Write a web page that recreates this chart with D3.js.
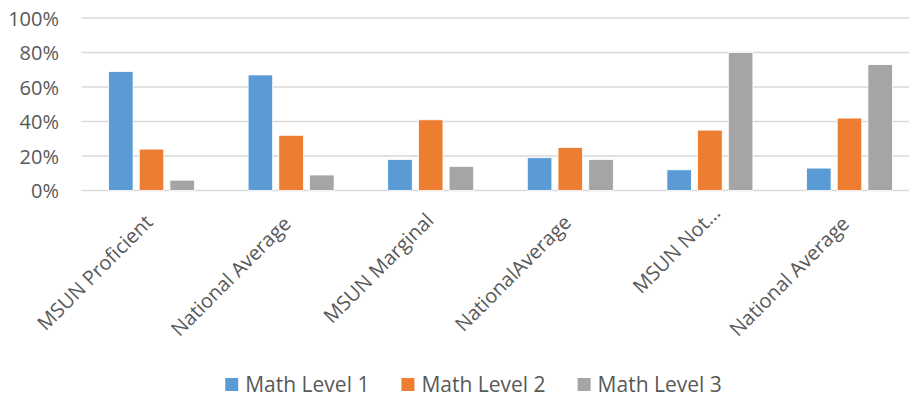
<!DOCTYPE html>
<html>
<head>
<meta charset="utf-8">
<script src="https://cdn.jsdelivr.net/npm/d3@7"></script>
<style>
  html, body { margin: 0; padding: 0; background: #fff; }
  svg { display: block; font-family: "Open Sans", "DejaVu Sans", sans-serif; }
</style>
</head>
<body>
<svg id="chart" width="909" height="401"></svg>
<script>
const categories = ["MSUN Proficient", "National Average", "MSUN Marginal", "NationalAverage", "MSUN Not…", "National Average"];
const seriesNames = ["Math Level 1", "Math Level 2", "Math Level 3"];
const level1 = [0.69, 0.67, 0.18, 0.19, 0.12, 0.13];
const level2 = [0.24, 0.32, 0.41, 0.25, 0.35, 0.42];
const level3 = [0.06, 0.09, 0.14, 0.18, 0.80, 0.73];
const yTicks = [0, 0.2, 0.4, 0.6, 0.8, 1.0];
const colors = ["#5B9BD5", "#ED7D31", "#A5A5A5"];

const seriesValues = [level1, level2, level3];
const svg = d3.select("#chart");
const textColor = "#595959";

const plotLeft = 81.7, plotRight = 919.3, plotTop = 18, plotBottom = 190.5;

const x0 = d3.scaleBand()
  .domain(d3.range(categories.length))
  .range([plotLeft, plotRight])
  .paddingInner(0.384)
  .paddingOuter(0.192);

const x1 = d3.scaleBand()
  .domain(d3.range(seriesNames.length))
  .range([0, x0.bandwidth()])
  .paddingInner(0.2)
  .paddingOuter(0);

const y = d3.scaleLinear().domain([0, 1]).range([plotBottom, plotTop]);

// gridlines
svg.append("g")
  .selectAll("line")
  .data(yTicks)
  .join("line")
  .attr("x1", plotLeft)
  .attr("x2", plotRight)
  .attr("y1", d => y(d))
  .attr("y2", d => y(d))
  .attr("stroke", "#D9D9D9")
  .attr("stroke-width", 1.4);

// y axis labels
const yAxis = d3.axisLeft(y).tickValues(yTicks).tickFormat(d3.format(".0%")).tickSize(0).tickPadding(0);
const yg = svg.append("g").attr("transform", "translate(59,0)").call(yAxis);
yg.select(".domain").remove();
yg.selectAll("text")
  .attr("fill", textColor)
  .attr("font-size", "20px")
  .attr("font-family", "'Open Sans', sans-serif")
  .attr("dy", "0.36em");

// bars
const groups = svg.append("g")
  .selectAll("g")
  .data(categories.map((c, i) => i))
  .join("g")
  .attr("transform", i => `translate(${x0(i)},0)`);

groups.selectAll("rect")
  .data(i => seriesValues.map((vals, s) => ({ s, v: vals[i] })))
  .join("rect")
  .attr("x", d => x1(d.s))
  .attr("width", x1.bandwidth())
  .attr("y", d => y(d.v))
  .attr("height", d => y(0) - y(d.v))
  .attr("fill", d => colors[d.s])
  .attr("stroke", "#ffffff")
  .attr("stroke-width", 0.8);

// x labels (rotated -45)
const xl = svg.append("g");
const labels = xl.selectAll("g")
  .data(categories.map((c, i) => ({ c, i })))
  .join("g")
  .attr("transform", d => `translate(${x0(d.i) + x0.bandwidth() / 2 + 1},225) rotate(-45)`);
const texts = labels.append("text")
  .text(d => d.c)
  .attr("fill", textColor)
  .attr("font-size", "20px")
  .attr("text-anchor", "end");
let maxLen = 0;
texts.each(function () { maxLen = Math.max(maxLen, this.getComputedTextLength()); });
texts.attr("x", function () { return (maxLen - this.getComputedTextLength()) * 0.33; });

// legend
const legend = svg.append("g");
const items = legend.selectAll("g").data(seriesNames).join("g");
items.append("rect")
  .attr("width", 13).attr("height", 13)
  .attr("y", 378)
  .attr("fill", (d, i) => colors[i]);
items.append("text")
  .text(d => d)
  .attr("x", 20)
  .attr("y", 392)
  .attr("fill", textColor)
  .attr("font-size", "21px");
const widths = [];
items.each(function () {
  const w = 20 + d3.select(this).select("text").node().getComputedTextLength();
  widths.push(w);
});
const gap = 32;
const total = d3.sum(widths) + gap * (widths.length - 1);
let start = 473.5 - total / 2;
items.attr("transform", (d, i) => {
  const t = `translate(${start},0)`;
  start += widths[i] + gap;
  return t;
});
</script>
</body>
</html>
